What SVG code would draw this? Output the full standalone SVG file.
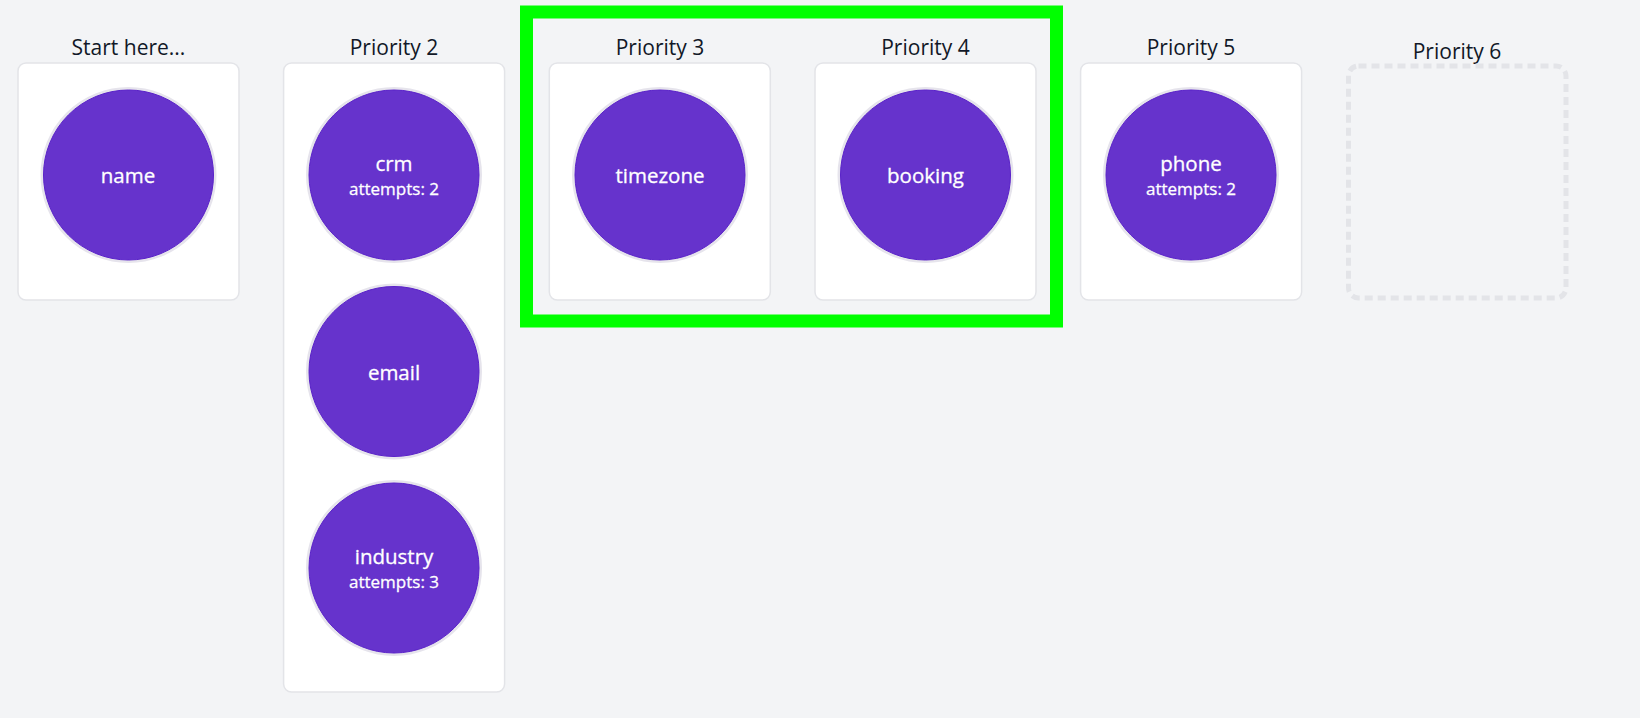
<svg xmlns="http://www.w3.org/2000/svg" width="1640" height="718" viewBox="0 0 1640 718">
<style>
.bg{fill:#f3f4f6}
.card{fill:#ffffff;stroke:#e3e4e8;stroke-width:1.5}
.empty{fill:none;stroke:#e3e4e8;stroke-width:5;stroke-dasharray:8 5}
.title{font-family:"Open Sans","Noto Sans",sans-serif;font-size:21px;fill:#111827;text-anchor:middle}
.node{fill:#6633cc;stroke:#e6e4ec;stroke-width:3}
.ring{fill:none;stroke:#5a22c9;stroke-width:1}
.lbl{font-family:"Open Sans","Noto Sans",sans-serif;font-size:20.5px;fill:#ffffff;stroke:#ffffff;stroke-width:0.3;text-anchor:middle}
.sub{font-family:"Open Sans","Noto Sans",sans-serif;font-size:17px;fill:#ffffff;stroke:#ffffff;stroke-width:0.3;text-anchor:middle}
.hl{fill:none;stroke:#00ff00;stroke-width:13}
</style>
<rect class="bg" x="0" y="0" width="1640" height="718"/>
<g id="connectors"></g>
<g id="highlight"><rect class="hl" x="526.5" y="12" width="530" height="309"/></g>

<g id="col1">
<text class="title" x="128.5" y="55">Start here...</text>
<rect class="card" x="18" y="63" width="221" height="237" rx="8"/>
</g>
<g id="col2">
<text class="title" x="394" y="55">Priority 2</text>
<rect class="card" x="283.6" y="63" width="221" height="629" rx="8"/>
</g>
<g id="col3">
<text class="title" x="660" y="55">Priority 3</text>
<rect class="card" x="549.3" y="63" width="221" height="237" rx="8"/>
</g>
<g id="col4">
<text class="title" x="925.5" y="55">Priority 4</text>
<rect class="card" x="815" y="63" width="221" height="237" rx="8"/>
</g>
<g id="col5">
<text class="title" x="1191" y="55">Priority 5</text>
<rect class="card" x="1080.6" y="63" width="221" height="237" rx="8"/>
</g>
<g id="col6">
<text class="title" x="1457" y="59">Priority 6</text>
<rect class="empty" x="1348.5" y="66" width="217.5" height="232" rx="10"/>
</g>

<g id="node-name">
<circle class="node" cx="128.5" cy="175" r="86.5"/><circle class="ring" cx="128.5" cy="175" r="85"/>
<text class="lbl" x="128" y="183">name</text>
</g>
<g id="node-crm">
<circle class="node" cx="394" cy="175" r="86.5"/><circle class="ring" cx="394" cy="175" r="85"/>
<text class="lbl" x="394" y="171">crm</text>
<text class="sub" x="394" y="195">attempts: 2</text>
</g>
<g id="node-email">
<circle class="node" cx="394" cy="371.5" r="86.5"/><circle class="ring" cx="394" cy="371.5" r="85"/>
<text class="lbl" x="394" y="379.5">email</text>
</g>
<g id="node-industry">
<circle class="node" cx="394" cy="568" r="86.5"/><circle class="ring" cx="394" cy="568" r="85"/>
<text class="lbl" x="394" y="564">industry</text>
<text class="sub" x="394" y="588">attempts: 3</text>
</g>
<g id="node-timezone">
<circle class="node" cx="660" cy="175" r="86.5"/><circle class="ring" cx="660" cy="175" r="85"/>
<text class="lbl" x="660" y="183">timezone</text>
</g>
<g id="node-booking">
<circle class="node" cx="925.5" cy="175" r="86.5"/><circle class="ring" cx="925.5" cy="175" r="85"/>
<text class="lbl" x="925.5" y="183">booking</text>
</g>
<g id="node-phone">
<circle class="node" cx="1191" cy="175" r="86.5"/><circle class="ring" cx="1191" cy="175" r="85"/>
<text class="lbl" x="1191" y="171">phone</text>
<text class="sub" x="1191" y="195">attempts: 2</text>
</g>
</svg>
